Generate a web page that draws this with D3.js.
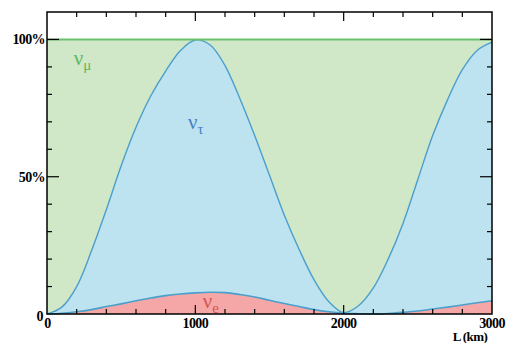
<!DOCTYPE html>
<html>
<head>
<meta charset="utf-8">
<script src="https://cdn.jsdelivr.net/npm/d3@7"></script>
<style>
  body { margin: 0; background: #fff; }
  svg { display: block; }
  .tick-label { font-family: "Liberation Serif", serif; font-weight: bold; font-size: 14px; letter-spacing: -0.6px; fill: #000; }
  .nu { font-family: "Liberation Serif", serif; }
</style>
</head>
<body>
<svg id="chart"></svg>
<script>
// baseline (km) and flavour probabilities
const lengths = [0,100,200,300,400,500,600,700,800,900,1000,1100,1200,1300,1400,1500,
  1600,1700,1800,1900,2000,2100,2200,2300,2400,2500,2600,2700,2800,2900,3000];
const pE = [0,0.003,0.008,0.016,0.027,0.037,0.048,0.058,0.067,0.073,0.077,0.079,0.078,0.071,0.062,0.05,
  0.038,0.027,0.016,0.008,0.003,0.001,0,0.002,0.006,0.011,0.018,0.025,0.033,0.041,0.048];
const pTau = [0,0.022,0.092,0.214,0.353,0.503,0.632,0.737,0.818,0.887,0.921,0.901,0.827,0.714,0.588,0.455,
  0.322,0.208,0.109,0.037,0.002,0.029,0.095,0.198,0.324,0.479,0.632,0.755,0.857,0.919,0.942];
const pMu = [1,0.975,0.9,0.77,0.62,0.46,0.32,0.205,0.115,0.04,0.002,0.02,0.095,0.215,0.35,0.495,
  0.64,0.765,0.875,0.955,0.995,0.97,0.905,0.8,0.67,0.51,0.35,0.22,0.11,0.04,0.01];

const yTickLabels = [{v: 0, t: "0"}, {v: 0.5, t: "50%"}, {v: 1, t: "100%"}];
const xTickLabels = [0, 1000, 2000, 3000];

const W = 507, H = 343;
const margin = {left: 47, top: 12, right: 15, bottom: 29};
const width = W - margin.left - margin.right;
const height = H - margin.top - margin.bottom;

const svg = d3.select("#chart").attr("width", W).attr("height", H);
const g = svg.append("g").attr("transform", "translate(" + margin.left + "," + margin.top + ")");

const x = d3.scaleLinear().domain([0, 3000]).range([0, width]);
const y = d3.scaleLinear().domain([0, 1.1]).range([height, 0]);

const rows = lengths.map((L, i) => ({L: L, e: pE[i], tau: pTau[i], mu: pMu[i]}));
const series = d3.stack().keys(["e", "tau", "mu"])(rows);

const fills = {e: "#f4a7a6", tau: "#bde3f0", mu: "#d0e7c8"};
const curve = d3.curveCatmullRom.alpha(0.5);

const area = d3.area()
  .x(d => x(d.data.L))
  .y0(d => y(d[0]))
  .y1(d => y(d[1]))
  .curve(curve);

g.selectAll(".layer")
  .data(series)
  .enter()
  .append("path")
    .attr("class", "layer")
    .attr("d", area)
    .style("fill", d => fills[d.key]);

// boundary lines
const topLine = d3.line()
  .x(d => x(d.data.L))
  .y(d => y(d[1]))
  .curve(curve);

g.append("path").datum(series[0]).attr("d", topLine)
  .style("fill", "none").style("stroke", "#4a9fcc").style("stroke-width", 1.6);
g.append("path").datum(series[1]).attr("d", topLine)
  .style("fill", "none").style("stroke", "#4a9fcc").style("stroke-width", 1.4);
g.append("path").datum(series[2]).attr("d", topLine)
  .style("fill", "none").style("stroke", "#6cc06c").style("stroke-width", 2);

// frame
g.append("rect")
  .attr("width", width).attr("height", height)
  .style("fill", "none").style("stroke", "#000").style("stroke-width", 1.5);

// inward ticks
const xMinor = d3.range(200, 3000, 200).filter(v => v % 1000 !== 0);
const xMajor = [1000, 2000];
const yMinor = d3.range(1, 11).map(v => v / 10).filter(v => v !== 0.5 && v !== 1);
const yMajor = [0.5, 1];

function tick(x1, y1, x2, y2) {
  g.append("line").attr("x1", x1).attr("y1", y1).attr("x2", x2).attr("y2", y2)
    .style("stroke", "#000").style("stroke-width", 1.2);
}
xMinor.forEach(v => { tick(x(v), height, x(v), height - 5); tick(x(v), 0, x(v), 5); });
xMajor.forEach(v => { tick(x(v), height, x(v), height - 9); tick(x(v), 0, x(v), 9); });
yMinor.forEach(v => { tick(0, y(v), 5, y(v)); tick(width, y(v), width - 5, y(v)); });
yMajor.forEach(v => { tick(0, y(v), 12, y(v)); tick(width, y(v), width - 12, y(v)); });

// tick labels
g.selectAll(".ylab").data(yTickLabels).enter().append("text")
  .attr("class", "tick-label")
  .attr("x", d => d.v === 0 ? -4 : -2)
  .attr("y", d => y(d.v) + (d.v === 0 ? 7 : 5))
  .attr("text-anchor", "end")
  .text(d => d.t);

g.selectAll(".xlab").data(xTickLabels).enter().append("text")
  .attr("class", "tick-label")
  .attr("x", d => d === 0 ? x(d) + 0.5 : x(d))
  .attr("y", height + 14)
  .attr("text-anchor", "middle")
  .text(d => d);

svg.append("text").attr("class", "tick-label")
  .style("font-size", "13px")
  .attr("x", 470).attr("y", 341).attr("text-anchor", "middle")
  .text("L (km)");

// flavour labels
function nuLabel(px, py, sub, color) {
  const t = g.append("text").attr("class", "nu").attr("x", px).attr("y", py).style("fill", color);
  t.append("tspan").style("font-size", "21px").text("ν");
  t.append("tspan").attr("dy", 5).style("font-size", "15px").text(sub);
}
nuLabel(x(180), y(0.95) + 12, "μ", "#5cb85c");
nuLabel(x(950), y(0.72) + 13, "τ", "#4a7fc0");
nuLabel(x(1050), y(0.035) + 4, "e", "#d9534f");
</script>
</body>
</html>
